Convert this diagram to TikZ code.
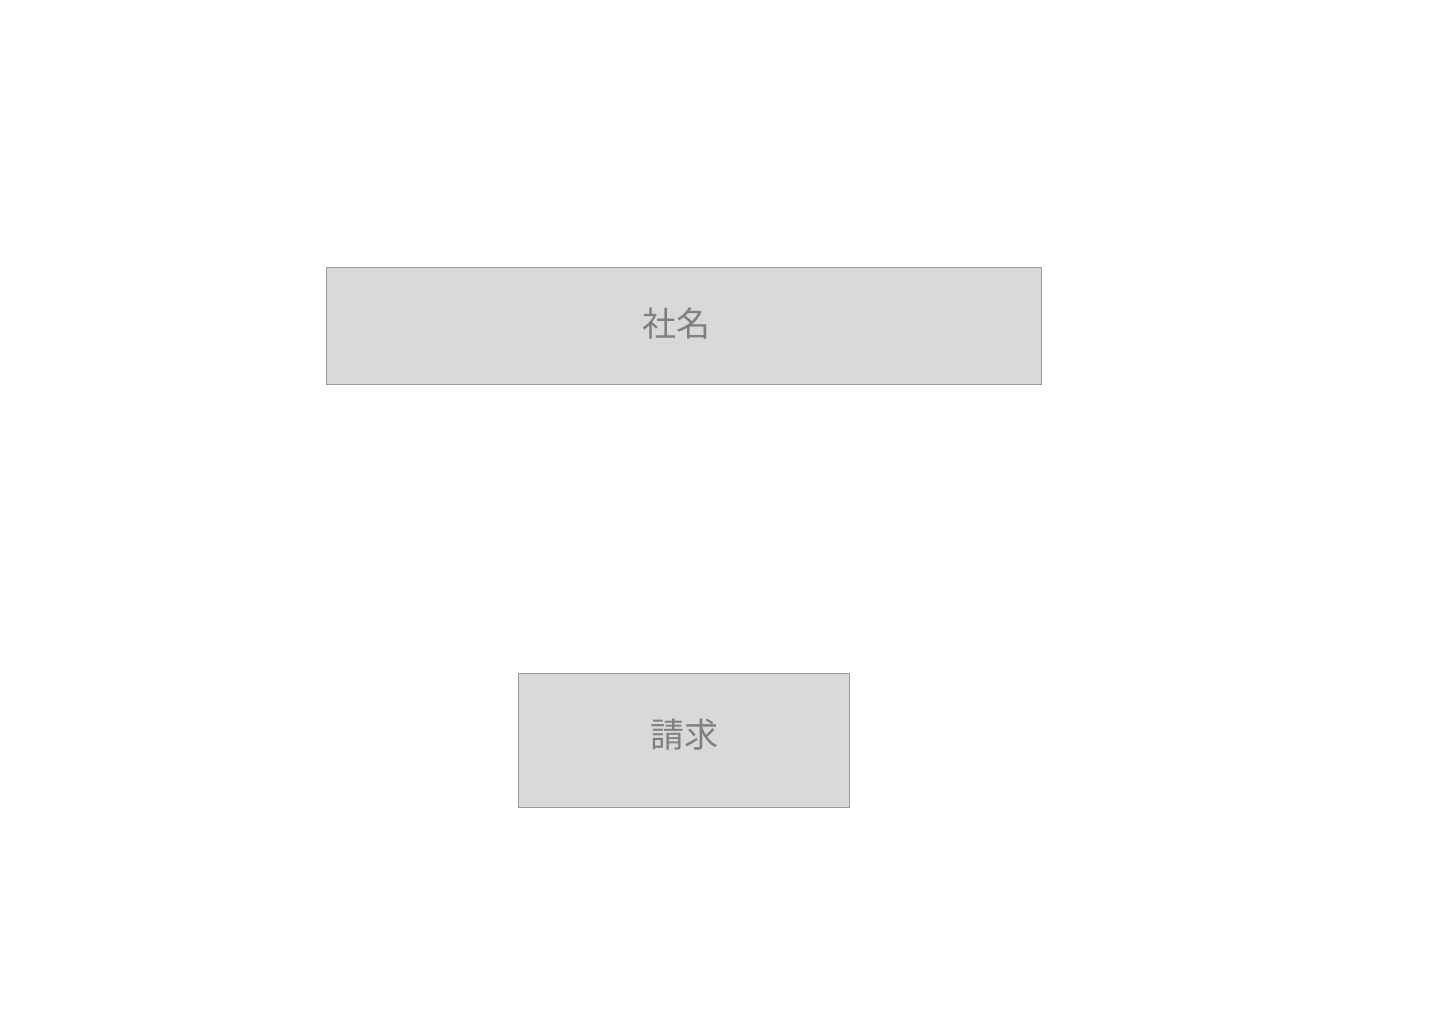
\documentclass[tikz,border=0pt]{standalone}
\usepackage{fontspec}
\newfontfamily\cjk{Noto Sans CJK JP}
\definecolor{boxfill}{HTML}{D9D9D9}
\definecolor{boxline}{HTML}{9A9A9A}
\definecolor{boxtext}{HTML}{7F7F7F}
\tikzset{
  box/.style={draw=boxline, fill=boxfill, line width=0.8pt, inner sep=0pt, text=boxtext, font=\cjk\fontsize{34}{40}\selectfont},
}
\begin{document}
\begin{tikzpicture}[x=1pt,y=-1pt]
\useasboundingbox (0,0) rectangle (1440,1024);
\node[box, minimum width=715pt, minimum height=117pt] (a) at (683.5,325.5) {};
\node[text=boxtext, font=\cjk\fontsize{34}{40}\selectfont, inner sep=0pt] (at) at (676,324) {社名};
\node[box, minimum width=331pt, minimum height=134pt] (b) at (683.5,740) {};
\node[text=boxtext, font=\cjk\fontsize{34}{40}\selectfont, inner sep=0pt] (bt) at (684,735) {請求};
\end{tikzpicture}
\end{document}
